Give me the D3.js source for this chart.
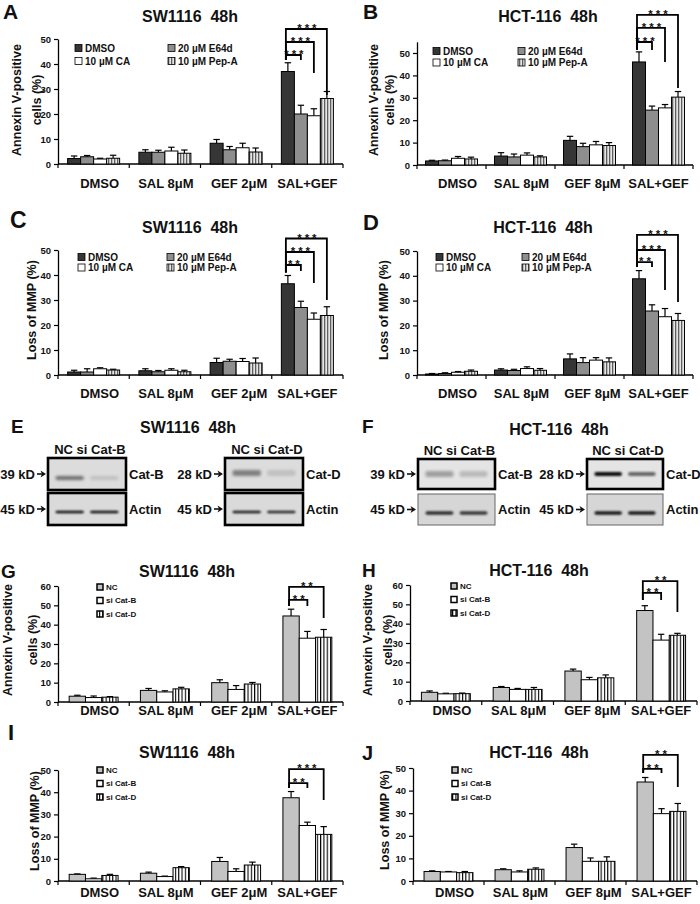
<!DOCTYPE html>
<html><head><meta charset="utf-8">
<script src="https://cdn.jsdelivr.net/npm/d3@7"></script>
<style>
body{margin:0;background:#fff;}
svg{display:block;font-family:"Liberation Sans",Arial,sans-serif;font-weight:bold;}
text{white-space:pre;}
</style></head><body>
<svg id="fig" width="700" height="904"></svg>
<script>
// ================= DATA =================
const groupsSW = ["DMSO", "SAL 8μM", "GEF 2μM", "SAL+GEF"];
const groupsHCT = ["DMSO", "SAL 8μM", "GEF 8μM", "SAL+GEF"];
const inhibitorSeries = ["DMSO", "20 µM E64d", "10 µM CA", "10 µM Pep-A"];
const siSeries = ["NC", "si Cat-B", "si Cat-D"];
const ticks50 = [0, 10, 20, 30, 40, 50];
const ticks60 = [0, 10, 20, 30, 40, 50, 60];

// rows = groups, cols = series
const aMeans = [[2.2, 2.9, 2.0, 2.3], [4.7, 4.7, 5.2, 4.3], [8.3, 5.7, 6.5, 4.8], [37.0, 20.0, 19.3, 26.2]];
const aErrs  = [[1.0, 0.5, 0.3, 1.2], [1.0, 0.8, 1.5, 1.3], [1.5, 1.3, 1.8, 1.6], [3.5, 3.5, 2.8, 2.8]];
const bMeans = [[1.8, 1.9, 3.0, 2.7], [4.0, 3.6, 4.4, 3.6], [11.0, 8.2, 9.0, 8.7], [46.0, 24.5, 25.5, 30.3]];
const bErrs  = [[0.3, 0.3, 0.8, 0.8], [1.5, 1.3, 1.0, 0.5], [1.8, 1.5, 1.5, 1.3], [4.5, 1.8, 1.5, 2.5]];
const cMeans = [[1.2, 1.2, 2.5, 2.0], [1.7, 1.3, 1.9, 1.3], [5.0, 5.5, 5.4, 4.8], [36.5, 27.0, 22.3, 23.8]];
const cErrs  = [[0.7, 1.3, 0.4, 0.3], [0.8, 0.5, 0.6, 0.6], [1.7, 0.8, 1.2, 2.0], [3.3, 2.5, 2.5, 3.5]];
const dMeans = [[0.4, 0.6, 1.1, 1.5], [2.0, 1.8, 2.6, 1.9], [6.5, 5.0, 6.0, 5.3], [38.8, 25.8, 23.5, 22.0]];
const dErrs  = [[0.2, 0.3, 0.3, 0.5], [0.5, 0.5, 0.7, 0.7], [2.0, 2.0, 1.0, 1.6], [3.3, 2.5, 3.3, 2.8]];
const gMeans = [[3.0, 2.3, 2.5], [6.0, 5.2, 6.8], [10.0, 6.5, 9.3], [44.5, 33.0, 33.5]];
const gErrs  = [[0.5, 0.8, 0.3], [1.0, 0.6, 0.8], [1.5, 2.0, 0.8], [3.5, 3.5, 4.0]];
const hMeans = [[4.5, 3.7, 3.8], [7.0, 6.0, 6.0], [15.5, 11.0, 12.0], [46.8, 31.5, 34.0]];
const hErrs  = [[0.7, 0.3, 0.3], [0.5, 0.5, 1.0], [1.0, 1.2, 1.5], [2.5, 3.0, 1.0]];
const iMeans = [[3.0, 1.0, 2.5], [3.5, 2.0, 6.0], [8.8, 4.3, 7.2], [37.5, 25.0, 21.0]];
const iErrs  = [[0.2, 0.3, 0.5], [0.5, 0.2, 0.5], [1.8, 1.2, 1.3], [2.8, 1.5, 3.5]];
const jMeans = [[4.2, 4.0, 3.7], [5.0, 4.0, 5.2], [14.8, 8.7, 8.7], [43.8, 29.8, 30.8]];
const jErrs  = [[0.3, 0.2, 0.5], [0.4, 0.5, 0.6], [1.5, 1.5, 2.0], [2.0, 2.2, 3.5]];

// significance labels (comparisons vs first series in SAL+GEF group)
const aSig = ["***", "***", "***"];
const bSig = ["***", "***", "***"];
const cSig = ["**", "***", "***"];
const dSig = ["**", "***", "***"];
const gSig = ["**", "**"];
const hSig = ["**", "**"];
const iSig = ["**", "***"];
const jSig = ["**", "**"];

// western blot
const blotLaneLabels = ["NC si Cat-B", "NC si Cat-D"];
const blotTargets = ["Cat-B", "Cat-D"];
const blotKd = ["39 kD", "28 kD"];
const actinKd = "45 kD";
const blotEIntensity = [[0.5, 0.12], [0.42, 0.12]];
const blotEActin = [[0.95, 0.95], [0.9, 0.85]];
const blotFIntensity = [[0.3, 0.18], [0.95, 0.55]];
const blotFActin = [[0.8, 0.75], [0.9, 0.9]];

// ================= STYLE =================
const FONT = '"Liberation Sans", Arial, sans-serif';
const svg = d3.select("#fig");
const defs = svg.append("defs");
function stripe(id, period, lw, color, bg) {
  const p = defs.append("pattern").attr("id", id).attr("patternUnits", "userSpaceOnUse")
    .attr("width", period).attr("height", 8);
  p.append("rect").attr("width", period).attr("height", 8).attr("fill", bg);
  p.append("rect").attr("x", 0).attr("width", lw).attr("height", 8).attr("fill", color);
}
stripe("pepA", 3, 1.3, "#5e5e5e", "#e6e6e6");
stripe("siD", 3.3, 1.1, "#000", "#fff");
defs.append("filter").attr("id", "blur").attr("x", "-30%").attr("y", "-100%").attr("width", "160%").attr("height", "300%")
  .append("feGaussianBlur").attr("stdDeviation", 1.1);
defs.append("filter").attr("id", "blur2").attr("x", "-30%").attr("y", "-100%").attr("width", "160%").attr("height", "300%")
  .append("feGaussianBlur").attr("stdDeviation", 1.8);

const inhibitorFills = ["#363636", "#8e8e8e", "#ffffff", "url(#pepA)"];
const siFills = ["#c3c3c3", "#ffffff", "url(#siD)"];

// ================= BAR PANELS =================
function barPanel(c) {
  const g = svg.append("g");
  const x = d3.scaleBand().domain(c.groups).range([c.x0, c.x1]);
  const nS = c.series.length;
  const off = (x.bandwidth() - c.barW * nS) / 2;
  const xi = d3.scaleBand().domain(c.series).range([off, off + c.barW * nS]);
  const y = d3.scaleLinear().domain([0, c.axisMax]).range([c.y0, c.yTop]);

  // y axis
  const ya = g.append("g").attr("transform", `translate(${c.x0},0)`)
    .call(d3.axisLeft(y).tickValues(c.ticks).tickSize(4).tickSizeOuter(0).tickPadding(3));
  ya.select(".domain").attr("stroke", "#000").attr("stroke-width", 1.3);
  ya.selectAll(".tick line").attr("stroke", "#000").attr("stroke-width", 1.2);
  ya.selectAll("text").attr("font-size", 9.5).attr("font-weight", "bold").attr("font-family", FONT).attr("fill", "#111");

  // x axis line and boundary ticks
  g.append("line").attr("x1", c.x0).attr("x2", c.x1).attr("y1", c.y0).attr("y2", c.y0)
    .attr("stroke", "#000").attr("stroke-width", 1.3);
  const bounds = c.groups.map(d => x(d)).concat([c.x1]);
  g.selectAll(".bt").data(bounds).join("line")
    .attr("x1", d => d).attr("x2", d => d).attr("y1", c.y0).attr("y2", c.y0 + 4)
    .attr("stroke", "#000").attr("stroke-width", 1.2);
  g.selectAll(".cat").data(c.groups).join("text")
    .attr("x", (d, i) => x(d) + x.bandwidth() / 2 + c.labelNudge[i]).attr("y", c.labelY)
    .attr("text-anchor", "middle").attr("font-size", 13).attr("fill", "#111").text(d => d);

  // bars
  const flat = c.groups.flatMap((gn, gi) => c.series.map((s, si) => ({ gn, s, si, v: c.means[gi][si], e: c.errs[gi][si] })));
  // error bars
  const eg = g.append("g").attr("stroke", "#000").attr("stroke-width", 1.2);
  flat.forEach(d => {
    const cx = x(d.gn) + xi(d.s) + xi.bandwidth() / 2;
    eg.append("line").attr("x1", cx).attr("x2", cx).attr("y1", y(d.v)).attr("y2", y(d.v + d.e));
    eg.append("line").attr("x1", cx - 3.2).attr("x2", cx + 3.2).attr("y1", y(d.v + d.e)).attr("y2", y(d.v + d.e));
  });
  g.selectAll(".bar").data(flat).join("rect")
    .attr("x", d => x(d.gn) + xi(d.s)).attr("width", xi.bandwidth())
    .attr("y", d => y(d.v)).attr("height", d => c.y0 - y(d.v))
    .attr("fill", d => c.fills[d.si]).attr("stroke", "#000").attr("stroke-width", 1);

  // significance brackets
  const last = c.groups[c.groups.length - 1];
  const cxOf = si => x(last) + xi(c.series[si]) + xi.bandwidth() / 2;
  c.brackets.forEach((b, k) => {
    const xl = cxOf(0) - 2, xr = cxOf(b.to);
    g.append("path")
      .attr("d", `M${xl},${y(b.l)}V${y(b.level)}H${xr}V${y(b.r)}`)
      .attr("fill", "none").attr("stroke", "#000").attr("stroke-width", 1.8);
    g.append("text").attr("x", (xl + xr) / 2 + 2).attr("y", y(b.level) + 3.2)
      .attr("text-anchor", "middle").attr("font-size", 11.5).attr("letter-spacing", 3)
      .attr("fill", "#111").text(c.sig[k]);
  });

  // legend
  const L = c.legend;
  c.series.forEach((s, i) => {
    const col = i % L.cols, row = Math.floor(i / L.cols);
    const lx = L.x + col * L.colDx, ly = L.y + row * L.rowDy;
    g.append("rect").attr("x", lx).attr("y", ly - L.size / 2).attr("width", L.size).attr("height", L.size)
      .attr("fill", c.fills[i]).attr("stroke", "#000").attr("stroke-width", L.sw);
    g.append("text").attr("x", lx + L.size + 3).attr("y", ly + L.font * 0.36)
      .attr("font-size", L.font).attr("fill", "#111").text(s);
  });

  // y label
  c.ylabel.forEach(t => {
    g.append("text").attr("transform", `translate(${t.x},${c.ylabelY}) rotate(-90)`)
      .attr("text-anchor", "middle").attr("dy", "0.36em").attr("font-size", 12.5)
      .attr("fill", "#111").text(t.t);
  });
}

const annexLabel = (x1, x2) => [{ t: "Annexin V-positive", x: x1 }, { t: "cells (%)", x: x2 }];
const mmpLabel = x1 => [{ t: "Loss of MMP (%)", x: x1 }];

barPanel({ groups: groupsSW, series: inhibitorSeries, means: aMeans, errs: aErrs, fills: inhibitorFills, sig: aSig,
  x0: 58, x1: 343, y0: 164, yTop: 39, axisMax: 50, ticks: ticks50, barW: 13, labelY: 188, labelNudge: [6, 1, 3, 0],
  legend: { x: 75, y: 48, colDx: 93, rowDy: 13, cols: 2, size: 7, sw: 0.8, font: 10 },
  brackets: [{ to: 1, level: 43.6, l: 41.6, r: 41.6 }, { to: 2, level: 48.8, l: 41.6, r: 36.4 }, { to: 3, level: 54, l: 41.6, r: 27.6 }],
  ylabel: annexLabel(16, 36), ylabelY: 100 });

barPanel({ groups: groupsHCT, series: inhibitorSeries, means: bMeans, errs: bErrs, fills: inhibitorFills, sig: bSig,
  x0: 417, x1: 693, y0: 165, yTop: 165 - 55 * 2.24, axisMax: 55, ticks: ticks50, barW: 13, labelY: 188, labelNudge: [6, 1, 3, 0],
  legend: { x: 433, y: 51, colDx: 85, rowDy: 11.5, cols: 2, size: 7, sw: 0.8, font: 10 },
  brackets: [{ to: 1, level: 54.9, l: 51.3, r: 51.3 }, { to: 2, level: 61.2, l: 51.3, r: 46 }, { to: 3, level: 67, l: 51.3, r: 34.4 }],
  ylabel: annexLabel(373, 389), ylabelY: 100 });

barPanel({ groups: groupsSW, series: inhibitorSeries, means: cMeans, errs: cErrs, fills: inhibitorFills, sig: cSig,
  x0: 58, x1: 343, y0: 375, yTop: 250, axisMax: 50, ticks: ticks50, barW: 13, labelY: 398, labelNudge: [6, 1, 3, 0],
  legend: { x: 78, y: 257, colDx: 89, rowDy: 10.5, cols: 2, size: 7, sw: 0.8, font: 10 },
  brackets: [{ to: 1, level: 44, l: 41, r: 41.6 }, { to: 2, level: 49.2, l: 41, r: 36.8 }, { to: 3, level: 54.6, l: 41, r: 30 }],
  ylabel: mmpLabel(31), ylabelY: 310 });

barPanel({ groups: groupsHCT, series: inhibitorSeries, means: dMeans, errs: dErrs, fills: inhibitorFills, sig: dSig,
  x0: 417, x1: 693, y0: 375, yTop: 251, axisMax: 50, ticks: ticks50, barW: 13, labelY: 398, labelNudge: [6, 1, 3, 0],
  legend: { x: 436, y: 257, colDx: 86, rowDy: 10.5, cols: 2, size: 7, sw: 0.8, font: 10 },
  brackets: [{ to: 1, level: 45.5, l: 43.5, r: 43.5 }, { to: 2, level: 50.4, l: 43.5, r: 34.3 }, { to: 3, level: 56.5, l: 43.5, r: 29.4 }],
  ylabel: mmpLabel(383), ylabelY: 310 });

barPanel({ groups: groupsSW, series: siSeries, means: gMeans, errs: gErrs, fills: siFills, sig: gSig,
  x0: 58, x1: 343, y0: 702, yTop: 586, axisMax: 60, ticks: ticks60, barW: 16.3, labelY: 715, labelNudge: [6, 1, 3, 0],
  legend: { x: 97, y: 587, colDx: 0, rowDy: 13.5, cols: 1, size: 6, sw: 1.5, font: 8 },
  brackets: [{ to: 1, level: 52.8, l: 49.7, r: 49.7 }, { to: 2, level: 59.5, l: 49.7, r: 43.5 }],
  ylabel: annexLabel(7, 32), ylabelY: 640 });

barPanel({ groups: groupsHCT, series: siSeries, means: hMeans, errs: hErrs, fills: siFills, sig: hSig,
  x0: 410, x1: 697, y0: 701, yTop: 585, axisMax: 60, ticks: ticks60, barW: 16.3, labelY: 715, labelNudge: [6, 1, 3, 0],
  legend: { x: 451, y: 586, colDx: 0, rowDy: 13.5, cols: 1, size: 6, sw: 1.5, font: 8 },
  brackets: [{ to: 1, level: 55.9, l: 52.2, r: 52.2 }, { to: 2, level: 62, l: 52.2, r: 46 }],
  ylabel: annexLabel(367, 387), ylabelY: 640 });

barPanel({ groups: groupsSW, series: siSeries, means: iMeans, errs: iErrs, fills: siFills, sig: iSig,
  x0: 58, x1: 343, y0: 881, yTop: 770, axisMax: 50, ticks: ticks50, barW: 16.3, labelY: 897, labelNudge: [6, 1, 3, 0],
  legend: { x: 97, y: 770, colDx: 0, rowDy: 13.5, cols: 1, size: 6, sw: 1.5, font: 8 },
  brackets: [{ to: 1, level: 44.1, l: 41.9, r: 41.9 }, { to: 2, level: 50.4, l: 41.9, r: 36.5 }],
  ylabel: mmpLabel(34), ylabelY: 821 });

barPanel({ groups: groupsHCT, series: siSeries, means: jMeans, errs: jErrs, fills: siFills, sig: jSig,
  x0: 413, x1: 697, y0: 881, yTop: 768, axisMax: 50, ticks: ticks50, barW: 16.3, labelY: 897, labelNudge: [6, 1, 3, 0],
  legend: { x: 452, y: 770, colDx: 0, rowDy: 13.5, cols: 1, size: 6, sw: 1.5, font: 8 },
  brackets: [{ to: 1, level: 49.6, l: 47.8, r: 47.8 }, { to: 2, level: 55.8, l: 47.8, r: 41.6 }],
  ylabel: mmpLabel(384), ylabelY: 820 });

// ================= BLOTS =================
function blotBox(b) {
  const g = svg.append("g");
  g.append("rect").attr("x", b.x).attr("y", b.y).attr("width", b.w).attr("height", b.h)
    .attr("fill", b.fill);
  const lanes = d3.scaleBand().domain(["NC", "si"]).range([b.x + 3, b.x + b.w - 3]).paddingInner(0.12).paddingOuter(0.1);
  ["NC", "si"].forEach((ln, i) => {
    const v = b.intensity[i];
    g.append("rect").attr("x", lanes(ln) + 1).attr("width", lanes.bandwidth() - 2)
      .attr("y", b.y + b.bandY - b.bandH / 2).attr("height", b.bandH).attr("rx", 2)
      .attr("fill", "#000").attr("opacity", v).attr("filter", b.soft ? "url(#blur2)" : "url(#blur)");
  });
  g.append("rect").attr("x", b.x).attr("y", b.y).attr("width", b.w).attr("height", b.h)
    .attr("fill", "none").attr("stroke", b.stroke).attr("stroke-width", b.sw);
  const cy = b.y + b.h / 2;
  // size marker with arrow
  g.append("text").attr("x", b.x - 13).attr("y", cy + 4.5).attr("text-anchor", "end")
    .attr("font-size", 13).attr("fill", "#111").text(b.kd);
  g.append("line").attr("x1", b.x - 11).attr("x2", b.x - 5).attr("y1", cy).attr("y2", cy)
    .attr("stroke", "#111").attr("stroke-width", 1.6);
  g.append("path").attr("d", `M${b.x - 2},${cy}L${b.x - 7.5},${cy - 3.5}L${b.x - 6},${cy}L${b.x - 7.5},${cy + 3.5}Z`).attr("fill", "#111");
  g.append("text").attr("x", b.x + b.w + 3).attr("y", cy + 4.5)
    .attr("font-size", 13).attr("fill", "#111").text(b.target);
  if (b.lanesLabel) {
    g.append("text").attr("x", b.x + b.w / 2 + 3).attr("y", b.y - 4).attr("text-anchor", "middle")
      .attr("font-size", 13).attr("fill", "#111").text(b.lanesLabel);
  }
}
const eBoxX = [48, 225], fBoxX = [418, 587];
[0, 1].forEach(i => {
  blotBox({ x: eBoxX[i], y: 458, w: 78, h: 32, fill: "#dcdcdc", stroke: "#000", sw: 2.6, intensity: blotEIntensity[i],
    bandY: i === 0 ? 20 : 15, bandH: i === 0 ? 4 : 6, soft: true, kd: blotKd[i], target: blotTargets[i], lanesLabel: blotLaneLabels[i] });
  blotBox({ x: eBoxX[i], y: 493, w: 78, h: 32, fill: "#dadada", stroke: "#000", sw: 2.6, intensity: blotEActin[i],
    bandY: 19, bandH: 2.5, soft: false, kd: actinKd, target: "Actin" });
  blotBox({ x: fBoxX[i], y: 459, w: fBoxX[i] === 418 ? 77 : 76, h: 30, fill: "#e4e4e4", stroke: "#000", sw: 2.6, intensity: blotFIntensity[i],
    bandY: 15, bandH: i === 0 ? 6 : 4, soft: i === 0, kd: blotKd[i], target: blotTargets[i], lanesLabel: blotLaneLabels[i] });
  blotBox({ x: fBoxX[i], y: 494, w: fBoxX[i] === 418 ? 77 : 76, h: 31, fill: "#d6d6d6", stroke: "#666", sw: 1, intensity: blotFActin[i],
    bandY: 19, bandH: 3.5, soft: false, kd: actinKd, target: "Actin" });
});

// ================= TITLES & LETTERS =================
const titles = [
  ["SW1116  48h", 190, 22], ["HCT-116  48h", 548, 22], ["SW1116  48h", 190, 233], ["HCT-116  48h", 543, 233],
  ["SW1116  48h", 188, 433], ["HCT-116  48h", 559, 435], ["SW1116  48h", 187, 577], ["HCT-116  48h", 539, 576],
  ["SW1116  48h", 187, 758], ["HCT-116  48h", 539, 758]];
titles.forEach(t => svg.append("text").attr("x", t[1]).attr("y", t[2]).attr("text-anchor", "middle")
  .attr("font-size", 16).attr("fill", "#111").text(t[0]));
const letters = [["A", 3, 19, 21], ["B", 363, 19, 21], ["C", 10, 228, 23], ["D", 363, 230, 22], ["E", 11, 433, 19],
  ["F", 362, 433, 19], ["G", 1, 578, 19], ["H", 362, 577, 19], ["I", 8, 740, 22], ["J", 362, 760, 20]];
letters.forEach(t => svg.append("text").attr("x", t[1]).attr("y", t[2]).attr("font-size", t[3])
  .attr("fill", "#111").text(t[0]));
</script>
</body></html>
